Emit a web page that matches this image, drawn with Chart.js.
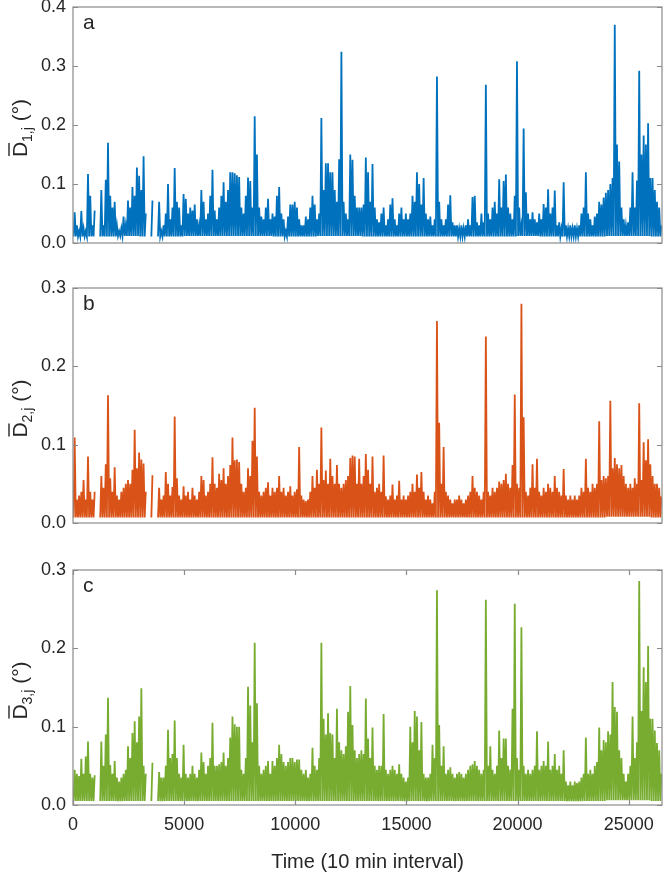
<!DOCTYPE html>
<html lang="en">
<head>
  <meta charset="UTF-8">
  <title>Mean deviation time series</title>
  <style>
    body {
      margin: 0;
      padding: 0;
      background: #fff;
      width: 669px;
      height: 872px;
      overflow: hidden;
      position: relative;
    }
    canvas {
      position: absolute;
      left: 0;
    }
  </style>
  <script src="https://cdn.jsdelivr.net/npm/chart.js"></script>
</head>
<body>

  <canvas id="chartA" width="669" height="276" style="top:-13px"></canvas>
  <canvas id="chartB" width="669" height="275" style="top:268px"></canvas>
  <canvas id="chartC" width="669" height="325" style="top:550px"></canvas>

  <script>
    // each value = peak of the trace inside one 100-interval bin
    const binSize = 100;
    const xMax = 26500;

    const peaksA = [
      0.052,0.03,0.02,0.054,0.025,0.02,0.117,0.08,0.03,0.055,null,null,0.09,0.03,0.107,0.17,0.08,0.06,0.07,0.03,
      0.02,0.025,0.045,0.03,0.072,0.06,0.095,0.08,0.128,0.114,0.09,0.147,0.05,null,null,0.072,null,null,0.07,0.02,
      0.03,0.05,0.1,0.04,0.06,0.127,0.07,0.06,0.03,0.083,0.075,0.05,0.06,0.055,0.065,0.04,0.03,0.09,0.07,0.04,
      0.05,0.08,0.124,0.055,0.04,0.06,0.08,0.103,0.07,0.09,0.12,0.12,0.118,0.115,0.112,0.06,0.05,0.08,0.111,0.105,
      0.06,0.215,0.15,0.06,0.045,0.04,0.06,0.075,0.04,0.05,0.045,0.08,0.095,0.05,0.04,0.02,0.045,0.065,0.065,0.07,
      0.06,0.04,0.03,0.03,0.045,0.04,0.06,0.08,0.065,0.04,0.05,0.212,0.09,0.135,0.135,0.12,0.12,0.09,0.07,0.142,
      0.324,0.07,0.05,0.04,0.15,0.141,0.08,0.06,0.06,0.06,0.065,0.145,0.12,0.07,0.134,0.06,0.04,0.035,0.05,0.06,
      0.03,0.04,0.065,0.076,0.04,0.03,0.05,0.06,0.04,0.05,0.04,0.05,0.08,0.07,0.12,0.1,0.065,0.11,0.05,0.04,
      0.045,0.03,0.04,0.282,0.07,0.04,0.03,0.04,0.065,0.081,0.035,0.03,0.03,0.025,0.03,0.025,0.03,0.04,0.03,0.078,
      0.08,0.035,0.03,0.05,0.035,0.268,0.05,0.04,0.06,0.07,0.05,0.108,0.06,0.105,0.116,0.06,0.05,0.04,0.08,0.308,
      0.06,0.03,0.194,0.086,0.05,0.04,0.052,0.04,0.035,0.05,0.04,0.066,0.06,0.091,0.05,0.06,0.089,0.03,0.035,0.025,
      0.103,0.03,0.025,0.03,0.025,0.03,0.025,0.03,0.05,0.06,0.12,0.05,0.04,0.03,0.045,0.05,0.07,0.065,0.077,0.085,
      0.09,0.1,0.11,0.37,0.167,0.138,0.06,0.04,0.03,0.035,0.06,0.12,0.06,0.106,0.292,0.15,0.182,0.167,0.203,0.11,
      0.11,0.09,0.07,0.06,0.03
    ];

    const peaksB = [
      0.109,0.03,0.035,0.04,0.055,0.03,0.085,0.04,0.03,0.04,null,null,0.06,0.045,0.075,0.163,0.057,0.04,0.071,0.035,
      0.03,0.04,0.045,0.05,0.055,0.05,0.068,0.119,0.07,0.09,0.081,0.076,0.04,null,null,0.061,null,null,0.045,0.03,
      0.035,0.065,0.05,0.035,0.046,0.136,0.057,0.035,0.03,0.047,0.035,0.04,0.03,0.045,0.035,0.03,0.04,0.06,0.055,0.035,
      0.04,0.05,0.084,0.05,0.045,0.063,0.055,0.07,0.05,0.06,0.074,0.109,0.08,0.081,0.078,0.05,0.04,0.045,0.07,0.06,
      0.105,0.147,0.085,0.04,0.035,0.04,0.045,0.052,0.035,0.045,0.04,0.045,0.06,0.04,0.045,0.035,0.04,0.047,0.035,0.04,
      0.043,0.097,0.035,0.03,0.028,0.03,0.04,0.06,0.045,0.068,0.05,0.122,0.055,0.067,0.05,0.082,0.06,0.05,0.074,0.05,
      0.045,0.05,0.055,0.06,0.083,0.086,0.085,0.05,0.082,0.05,0.06,0.088,0.068,0.05,0.085,0.04,0.045,0.05,0.04,0.086,
      0.034,0.03,0.035,0.049,0.03,0.035,0.054,0.03,0.035,0.03,0.035,0.04,0.05,0.04,0.062,0.045,0.065,0.04,0.03,0.035,
      0.03,0.025,0.04,0.258,0.128,0.05,0.097,0.04,0.035,0.03,0.025,0.03,0.03,0.035,0.03,0.025,0.03,0.035,0.04,0.06,
      0.045,0.04,0.035,0.03,0.04,0.238,0.04,0.035,0.045,0.04,0.045,0.053,0.05,0.055,0.063,0.05,0.045,0.074,0.164,0.05,
      0.045,0.28,0.135,0.04,0.035,0.045,0.075,0.045,0.082,0.04,0.035,0.045,0.04,0.05,0.045,0.04,0.06,0.045,0.04,0.035,
      0.069,0.035,0.03,0.035,0.03,0.035,0.03,0.035,0.045,0.04,0.082,0.045,0.04,0.05,0.045,0.05,0.13,0.055,0.06,0.057,
      0.06,0.156,0.07,0.083,0.075,0.07,0.074,0.06,0.05,0.045,0.05,0.045,0.057,0.05,0.153,0.055,0.103,0.08,0.107,0.075,
      0.06,0.05,0.05,0.045,0.034
    ];

    const peaksC = [
      0.045,0.04,0.037,0.059,0.04,0.062,0.081,0.04,0.035,0.038,null,null,0.081,0.05,0.09,0.137,0.051,0.04,0.056,0.035,
      0.03,0.035,0.04,0.045,0.075,0.06,0.092,0.107,0.08,0.113,0.149,0.05,0.04,null,null,0.054,null,null,0.042,0.035,
      0.035,0.05,0.096,0.06,0.065,0.108,0.06,0.04,0.035,0.077,0.04,0.035,0.04,0.05,0.04,0.035,0.045,0.067,0.055,0.04,
      0.05,0.06,0.105,0.05,0.05,0.052,0.055,0.067,0.05,0.06,0.086,0.113,0.103,0.1,0.1,0.045,0.04,0.06,0.151,0.127,
      0.08,0.207,0.13,0.05,0.04,0.045,0.05,0.056,0.04,0.056,0.05,0.06,0.077,0.065,0.055,0.05,0.055,0.06,0.06,0.055,
      0.058,0.058,0.045,0.04,0.045,0.035,0.04,0.073,0.05,0.045,0.06,0.207,0.11,0.09,0.117,0.092,0.09,0.06,0.123,0.08,
      0.07,0.065,0.075,0.119,0.152,0.102,0.07,0.06,0.065,0.07,0.065,0.136,0.085,0.06,0.099,0.05,0.045,0.05,0.05,0.116,
      0.045,0.04,0.045,0.05,0.045,0.04,0.052,0.04,0.035,0.03,0.035,0.1,0.08,0.12,0.113,0.07,0.106,0.04,0.035,0.035,
      0.04,0.077,0.06,0.274,0.102,0.05,0.075,0.04,0.045,0.048,0.04,0.035,0.04,0.042,0.04,0.035,0.04,0.045,0.05,0.052,
      0.056,0.05,0.045,0.04,0.045,0.262,0.05,0.075,0.045,0.04,0.05,0.095,0.06,0.085,0.085,0.05,0.045,0.123,0.257,0.06,
      0.045,0.227,0.05,0.04,0.045,0.04,0.045,0.05,0.094,0.045,0.05,0.056,0.05,0.081,0.045,0.05,0.065,0.045,0.05,0.04,
      0.07,0.03,0.025,0.03,0.025,0.03,0.028,0.03,0.035,0.04,0.086,0.04,0.045,0.04,0.05,0.055,0.099,0.07,0.083,0.08,
      0.094,0.09,0.157,0.125,0.119,0.07,0.06,0.04,0.03,0.04,0.05,0.113,0.06,0.08,0.286,0.12,0.176,0.157,0.203,0.11,
      0.11,0.095,0.079,0.07,0.04
    ];

    // floor of the trace, one value per 1000 intervals
    const lowsA = [0.011,0.011,0.012,0.011,0.011,0.012,0.012,0.012,0.012,0.011,0.011,0.012,0.012,0.011,
                   0.011,0.011,0.011,0.011,0.011,0.011,0.012,0.011,0.011,0.011,0.012,0.012,0.011];
    const lowsB = [0.007,0.007,0.007,0.007,0.007,0.007,0.007,0.007,0.007,0.007,0.007,0.007,0.007,0.007,
                   0.007,0.007,0.007,0.007,0.007,0.007,0.007,0.007,0.007,0.007,0.008,0.008,0.007];
    const lowsC = [0.005,0.005,0.005,0.005,0.005,0.005,0.005,0.005,0.005,0.005,0.005,0.005,0.005,0.005,
                   0.005,0.005,0.005,0.005,0.005,0.005,0.005,0.005,0.005,0.005,0.006,0.006,0.005];

    const xTickValues = [0, 5000, 10000, 15000, 20000, 25000];

    const TEXT = '#262626';
    const FONT = '"Liberation Sans", Arial, sans-serif';

    // low/high pair per bin, so the dense trace keeps its filled look
    function buildSeries(peaks, lows) {
      const pts = [];
      peaks.forEach((p, k) => {
        const t = k * binSize;
        if (p === null) {
          pts.push({ x: t + 50, y: null });
          return;
        }
        pts.push({ x: t + 25, y: lows[Math.floor(t / 1000)] });
        pts.push({ x: t + 75, y: p });
      });
      return pts;
    }

    const framePlugin = {
      id: 'frame',
      afterDatasetsDraw(chart, args, opts) {
        const { ctx, chartArea: a, scales } = chart;
        ctx.save();
        ctx.strokeStyle = '#8a8a8a';
        ctx.lineWidth = 1.2;
        ctx.strokeRect(a.left, a.top, a.right - a.left, a.bottom - a.top);
        ctx.beginPath();
        scales.y.ticks.forEach(t => {
          const py = Math.round(scales.y.getPixelForValue(t.value)) + 0.5;
          ctx.moveTo(a.left, py); ctx.lineTo(a.left + 5, py);
          ctx.moveTo(a.right, py); ctx.lineTo(a.right - 5, py);
        });
        if (opts.xTicks) {
          xTickValues.forEach(v => {
            const px = Math.round(scales.x.getPixelForValue(v)) + 0.5;
            ctx.moveTo(px, a.bottom); ctx.lineTo(px, a.bottom - 5);
            ctx.moveTo(px, a.top); ctx.lineTo(px, a.top + 5);
          });
        }
        ctx.stroke();

        // panel letter
        ctx.fillStyle = TEXT;
        ctx.font = '21px ' + FONT;
        ctx.textBaseline = 'alphabetic';
        ctx.fillText(opts.letter, a.left + 10, a.top + 22);

        // y label: D with overline, subscript, then (°)
        const big = '21px ' + FONT;
        const small = '14px ' + FONT;
        ctx.font = big;
        const wD = ctx.measureText('D').width;
        const wU = ctx.measureText(' (°)').width;
        ctx.font = small;
        const wS = ctx.measureText(opts.sub).width;
        ctx.translate(27, (a.top + a.bottom) / 2 + 3);
        ctx.rotate(-Math.PI / 2);
        let x = -(wD + wS + wU) / 2;
        ctx.font = big;
        ctx.fillText('D', x, 0);
        ctx.strokeStyle = TEXT;
        ctx.lineWidth = 1.4;
        ctx.beginPath();
        ctx.moveTo(x + 1, -18);
        ctx.lineTo(x + wD - 1, -18);
        ctx.stroke();
        x += wD;
        ctx.font = small;
        ctx.fillText(opts.sub, x, 5);
        x += wS;
        ctx.font = big;
        ctx.fillText(' (°)', x, 0);
        ctx.restore();
      }
    };

    function makePanel(canvasId, peaks, lows, color, yMax, letter, sub, withXAxis) {
      const ctx = document.getElementById(canvasId).getContext('2d');
      return new Chart(ctx, {
        type: 'line',
        data: {
          datasets: [{
            data: buildSeries(peaks, lows),
            borderColor: color,
            borderWidth: 1.8,
            pointRadius: 0,
            tension: 0,
            spanGaps: false
          }]
        },
        options: {
          responsive: false,
          animation: false,
          events: [],
          layout: { padding: { top: 20, bottom: withXAxis ? 0 : 20, left: 0, right: 7 } },
          plugins: {
            legend: { display: false },
            tooltip: { enabled: false },
            frame: { letter: letter, sub: sub, xTicks: withXAxis }
          },
          scales: {
            x: {
              type: 'linear',
              min: 0,
              max: xMax,
              display: withXAxis,
              grid: { display: false, drawTicks: false },
              border: { display: false },
              afterFit: s => { if (withXAxis) s.height = 70; },
              afterBuildTicks: s => { s.ticks = xTickValues.map(v => ({ value: v })); },
              ticks: {
                autoSkip: false,
                maxRotation: 0,
                padding: 9,
                color: TEXT,
                font: { family: FONT, size: 18 },
                callback: v => String(v)
              },
              title: {
                display: true,
                text: 'Time (10 min interval)',
                color: TEXT,
                font: { family: FONT, size: 20 },
                padding: { top: 0, bottom: 1 }
              }
            },
            y: {
              min: 0,
              max: yMax,
              grid: { display: false, drawTicks: false },
              border: { display: false },
              afterFit: s => { s.width = 73; },
              ticks: {
                stepSize: 0.1,
                padding: 7,
                color: TEXT,
                font: { family: FONT, size: 18 },
                callback: v => v.toFixed(1)
              }
            }
          }
        },
        plugins: [framePlugin]
      });
    }

    makePanel('chartA', peaksA, lowsA, '#0072BD', 0.4, 'a', '1,j', false);
    makePanel('chartB', peaksB, lowsB, '#D95319', 0.3, 'b', '2,j', false);
    makePanel('chartC', peaksC, lowsC, '#77AC30', 0.3, 'c', '3,j', true);
  </script>
</body>
</html>
